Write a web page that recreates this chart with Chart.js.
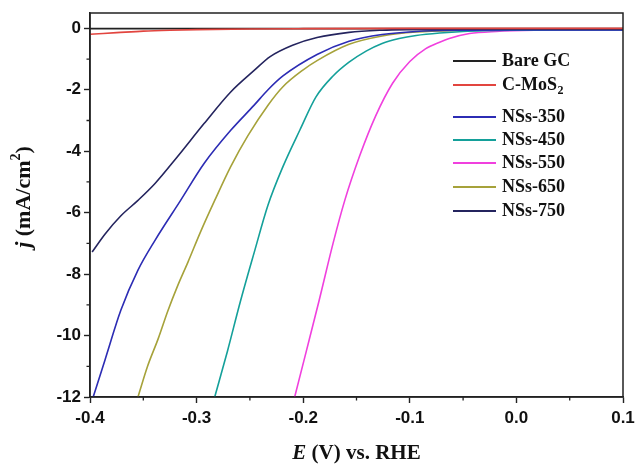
<!DOCTYPE html>
<html>
<head>
<meta charset="utf-8">
<script src="https://cdn.jsdelivr.net/npm/chart.js@4.4.1/dist/chart.umd.min.js"></script>
<style>
html,body{margin:0;padding:0;background:#fff;}
#wrap{width:637px;height:466px;position:relative;}
</style>
</head>
<body>
<div id="wrap"><canvas id="c" width="637" height="466"></canvas></div>
<script>
// ---- data ----
const seriesLabels = ['Bare GC', 'C-MoS₂', 'NSs-350', 'NSs-450', 'NSs-550', 'NSs-650', 'NSs-750'];
const seriesColors = ['#222222', '#e2453f', '#2c2cb4', '#14a09a', '#f040de', '#a6a23a', '#24245e'];

const bareX = [-0.4, -0.3, -0.2, -0.1, 0.0, 0.1];
const bareY = [-0.01, -0.01, -0.01, -0.01, -0.01, -0.01];

const cmosX = [-0.4, -0.375, -0.35, -0.325, -0.3, -0.25, -0.2, -0.1, 0.0, 0.1];
const cmosY = [-0.19, -0.14, -0.09, -0.06, -0.04, -0.02, -0.01, 0.0, 0.0, 0.0];

const ns350X = [-0.397, -0.386, -0.371, -0.355, -0.339, -0.315, -0.293, -0.268, -0.246, -0.233, -0.219, -0.187, -0.157, -0.126, -0.094, -0.05, 0.0, 0.05, 0.1];
const ns350Y = [-12, -10.8, -9.17, -7.87, -6.9, -5.6, -4.4, -3.32, -2.5, -2.0, -1.55, -0.85, -0.42, -0.2, -0.1, -0.06, -0.05, -0.05, -0.05];

const ns450X = [-0.283, -0.271, -0.259, -0.246, -0.233, -0.219, -0.203, -0.188, -0.172, -0.157, -0.141, -0.126, -0.11, -0.094, -0.072, -0.05, 0.0, 0.05, 0.1];
const ns450Y = [-12, -10.5, -8.9, -7.3, -5.75, -4.5, -3.3, -2.23, -1.55, -1.1, -0.74, -0.49, -0.33, -0.23, -0.15, -0.1, -0.06, -0.05, -0.05];

const ns550X = [-0.208, -0.197, -0.185, -0.172, -0.161, -0.147, -0.132, -0.116, -0.1, -0.085, -0.072, -0.063, -0.044, -0.019, 0.02, 0.06, 0.1];
const ns550Y = [-12, -10.5, -8.85, -7.0, -5.6, -4.15, -2.85, -1.78, -1.08, -0.66, -0.45, -0.33, -0.17, -0.1, -0.06, -0.05, -0.05];

const ns650X = [-0.355, -0.346, -0.336, -0.327, -0.318, -0.308, -0.296, -0.283, -0.268, -0.252, -0.233, -0.219, -0.2, -0.187, -0.157, -0.126, -0.094, -0.05, 0.0, 0.05, 0.1];
const ns650Y = [-12, -11.0, -10.1, -9.2, -8.4, -7.6, -6.6, -5.6, -4.5, -3.5, -2.5, -1.9, -1.35, -1.05, -0.52, -0.25, -0.12, -0.07, -0.05, -0.05, -0.05];

const ns750X = [-0.398, -0.386, -0.371, -0.355, -0.339, -0.318, -0.293, -0.268, -0.246, -0.231, -0.21, -0.187, -0.157, -0.126, -0.1, -0.05, 0.0, 0.05, 0.1];
const ns750Y = [-7.28, -6.7, -6.1, -5.6, -5.05, -4.18, -3.1, -2.07, -1.37, -0.92, -0.55, -0.3, -0.13, -0.06, -0.04, -0.03, -0.03, -0.03, -0.03];

const xTicks = [-0.4, -0.3, -0.2, -0.1, 0.0, 0.1];
const yTicks = [0, -2, -4, -6, -8, -10, -12];

const xTitle = [{t: 'E', i: true}, {t: ' (V) vs. RHE'}];
const yTitle = [{t: 'j', i: true}, {t: ' (mA/cm'}, {t: '2', sup: true}, {t: ')'}];

// ---- build ----
const seriesX = [bareX, cmosX, ns350X, ns450X, ns550X, ns650X, ns750X];
const seriesY = [bareY, cmosY, ns350Y, ns450Y, ns550Y, ns650Y, ns750Y];

const datasets = seriesLabels.map((lab, k) => ({
  label: lab,
  data: seriesX[k].map((x, i) => ({x: x, y: seriesY[k][i]})),
  borderColor: seriesColors[k],
  backgroundColor: seriesColors[k],
  borderWidth: 1.6,
  pointRadius: 0,
  fill: false,
  cubicInterpolationMode: 'monotone',
  order: [6, 0, 2, 3, 4, 5, 1][k]
}));

const SERIF = '"Liberation Serif", "Times New Roman", serif';
const SANS = '"Liberation Sans", Arial, sans-serif';

function drawRich(ctx, segs, size) {
  let total = 0;
  const parts = segs.map(s => {
    const fs = s.sup ? Math.round(size * 0.62) : size;
    const f = (s.i ? 'italic ' : '') + 'bold ' + fs + 'px ' + SERIF;
    ctx.font = f;
    const w = ctx.measureText(s.t).width;
    total += w;
    return {s, f, w};
  });
  let x = -total / 2;
  ctx.textBaseline = 'middle';
  ctx.textAlign = 'left';
  parts.forEach(p => {
    ctx.font = p.f;
    ctx.fillText(p.s.t, x, p.s.sup ? -size * 0.35 : 0);
    x += p.w;
  });
}

const decor = {
  id: 'decor',
  afterDraw(chart) {
    const ctx = chart.ctx;
    const a = chart.chartArea;
    const xs = chart.scales.x, ys = chart.scales.y;
    ctx.save();
    ctx.strokeStyle = '#222';
    ctx.lineWidth = 1.5;
    ctx.strokeRect(a.left, a.top, a.right - a.left, a.bottom - a.top);
    ctx.lineWidth = 1.3;
    ctx.beginPath();
    for (let i = 0; i < xTicks.length - 1; i++) {
      const px = xs.getPixelForValue((xTicks[i] + xTicks[i + 1]) / 2);
      ctx.moveTo(px, a.bottom); ctx.lineTo(px, a.bottom + 3.5);
    }
    for (let i = 0; i < yTicks.length - 1; i++) {
      const py = ys.getPixelForValue((yTicks[i] + yTicks[i + 1]) / 2);
      ctx.moveTo(a.left, py); ctx.lineTo(a.left - 3.5, py);
    }
    ctx.stroke();
    ctx.fillStyle = '#111';
    ctx.save();
    ctx.translate((a.left + a.right) / 2, 454);
    drawRich(ctx, xTitle, 21);
    ctx.restore();
    ctx.save();
    ctx.translate(24, 197);
    ctx.rotate(-Math.PI / 2);
    drawRich(ctx, yTitle, 22);
    ctx.restore();
    const lx0 = 453, lx1 = 496, tx = 502;
    const rows = [61, 85, 117, 140, 163, 187, 211];
    chart.data.datasets.forEach((ds, k) => {
      const y = rows[k];
      ctx.strokeStyle = ds.borderColor;
      ctx.lineWidth = 2;
      ctx.beginPath(); ctx.moveTo(lx0, y); ctx.lineTo(lx1, y); ctx.stroke();
      ctx.fillStyle = '#111';
      ctx.textBaseline = 'middle';
      ctx.textAlign = 'left';
      ctx.font = 'bold 18px ' + SERIF;
      const lab = ds.label;
      const subIdx = lab.indexOf('₂');
      if (subIdx >= 0) {
        const base = lab.slice(0, subIdx);
        ctx.fillText(base, tx, y);
        const w = ctx.measureText(base).width;
        ctx.font = 'bold 12px ' + SERIF;
        ctx.fillText('2', tx + w + 0.5, y + 6);
      } else {
        ctx.fillText(lab, tx, y);
      }
    });
    ctx.restore();
  }
};

new Chart(document.getElementById('c'), {
  type: 'line',
  data: {datasets: datasets},
  plugins: [decor],
  options: {
    responsive: false,
    animation: false,
    layout: {padding: {left: 0, right: 14, top: 13, bottom: 0}},
    plugins: {legend: {display: false}, tooltip: {enabled: false}},
    scales: {
      x: {
        type: 'linear',
        min: -0.4, max: 0.1,
        afterBuildTicks: s => { s.ticks = xTicks.map(v => ({value: v})); },
        afterFit: s => { s.height = 69; s.paddingLeft = 0; s.paddingRight = 0; },
        ticks: {
          callback: v => Number(v).toFixed(1),
          color: '#111',
          font: {family: SANS, weight: 'bold', size: 17},
          padding: 5,
          maxRotation: 0,
          autoSkip: false
        },
        grid: {drawOnChartArea: false, drawTicks: true, tickLength: 6, tickColor: '#222', tickWidth: 1.4},
        border: {display: true, color: '#222', width: 1.5}
      },
      y: {
        type: 'linear',
        min: -12, max: 0.5,
        afterBuildTicks: s => { s.ticks = yTicks.map(v => ({value: v})); },
        afterFit: s => { s.width = 90; s.paddingTop = 0; s.paddingBottom = 0; },
        ticks: {
          callback: v => String(v),
          color: '#111',
          font: {family: SANS, weight: 'bold', size: 17},
          padding: 3,
          autoSkip: false
        },
        grid: {drawOnChartArea: false, drawTicks: true, tickLength: 6, tickColor: '#222', tickWidth: 1.4},
        border: {display: true, color: '#222', width: 1.5}
      }
    }
  }
});
</script>
</body>
</html>
